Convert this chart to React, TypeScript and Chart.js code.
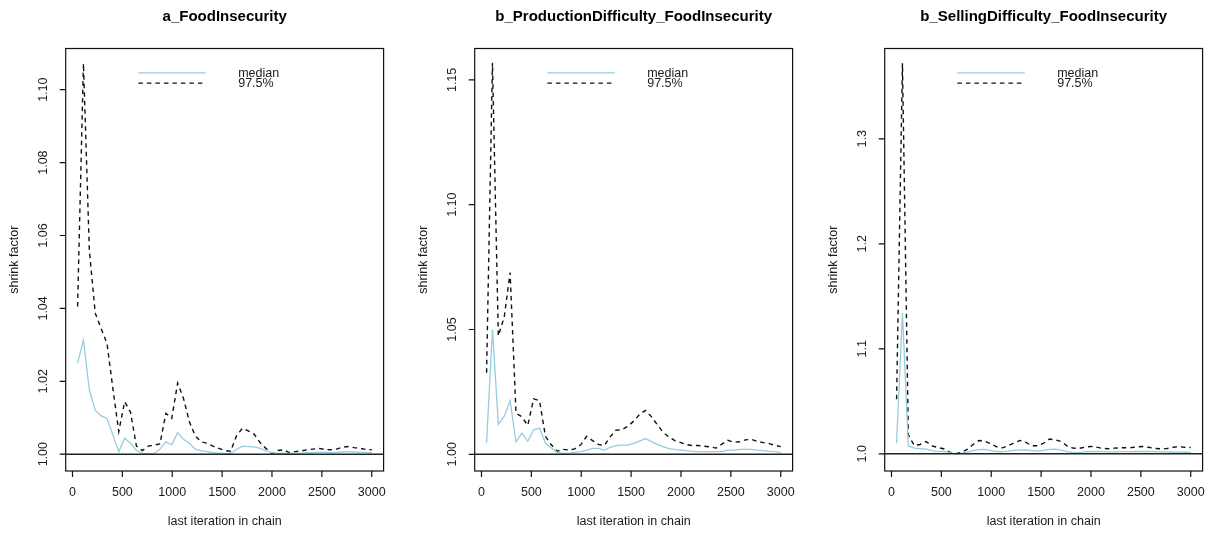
import React, { useEffect, useRef } from "react";
import { Chart, registerables } from "chart.js";

Chart.register(...registerables);

// ---------- data ----------
const iterations = [
  51, 110, 169, 228, 287, 346, 405, 464, 523, 582,
  641, 700, 759, 818, 877, 936, 995, 1054, 1113, 1172,
  1231, 1290, 1349, 1408, 1467, 1526, 1585, 1644, 1703, 1762,
  1821, 1880, 1939, 1998, 2057, 2116, 2175, 2234, 2293, 2352,
  2411, 2470, 2529, 2588, 2647, 2706, 2765, 2824, 2883, 2942, 3000,
];

const xTicks = [0, 500, 1000, 1500, 2000, 2500, 3000];

const titles = [
  "a_FoodInsecurity",
  "b_ProductionDifficulty_FoodInsecurity",
  "b_SellingDifficulty_FoodInsecurity",
];

const yTicksA = [1.0, 1.02, 1.04, 1.06, 1.08, 1.1];
const yTickLabelsA = ["1.00", "1.02", "1.04", "1.06", "1.08", "1.10"];
const yTicksB = [1.0, 1.05, 1.1, 1.15];
const yTickLabelsB = ["1.00", "1.05", "1.10", "1.15"];
const yTicksC = [1.0, 1.1, 1.2, 1.3];
const yTickLabelsC = ["1.0", "1.1", "1.2", "1.3"];

const medianA = [
  1.0249, 1.0313, 1.0176, 1.0121, 1.0105, 1.0098, 1.0053, 1.0007, 1.0044, 1.003,
  1.001, 1.0002, 1.0001, 1.0002, 1.0014, 1.0034, 1.0026, 1.0059, 1.0041, 1.003,
  1.0014, 1.001, 1.0007, 1.0004, 1.0003, 1.0002, 1.0002, 1.0013, 1.0022, 1.0021,
  1.002, 1.0016, 1.001, 1.0004, 1.0002, 1.0003, 1.0002, 1.0003, 1.0003, 1.0004,
  1.0004, 1.0005, 1.0005, 1.0004, 1.0005, 1.0006, 1.0007, 1.0006, 1.0005, 1.0005, 1.0004,
];
const upperA = [
  1.0405, 1.1072, 1.056, 1.0387, 1.0345, 1.0304, 1.018, 1.0062, 1.0144, 1.0115,
  1.0022, 1.001, 1.0022, 1.0025, 1.0028, 1.0112, 1.0098, 1.0195, 1.0153, 1.0089,
  1.005, 1.0034, 1.003, 1.0022, 1.0016, 1.001, 1.0008, 1.005, 1.0071, 1.0064,
  1.0055, 1.0032, 1.0016, 1.0002, 1.001, 1.0012, 1.0004, 1.0007, 1.0009, 1.0012,
  1.0014, 1.0016, 1.0013, 1.0012, 1.0014, 1.0019, 1.0021, 1.0018, 1.0016, 1.0013, 1.0012,
];

const medianB = [
  1.0046, 1.05, 1.012, 1.0152, 1.0215, 1.005, 1.0085, 1.0052, 1.0098, 1.0105,
  1.0045, 1.0025, 1.0008, 1.0004, 1.0005, 1.0008, 1.0011, 1.0017, 1.0024, 1.0024,
  1.0017, 1.0028, 1.0035, 1.0037, 1.0037, 1.0044, 1.0053, 1.0063, 1.0051, 1.004,
  1.0031, 1.0023, 1.0019, 1.0017, 1.0015, 1.0012, 1.0011, 1.0011, 1.0011, 1.0011,
  1.0011, 1.0017, 1.0017, 1.002, 1.002, 1.002, 1.0017, 1.0015, 1.0012, 1.0011, 1.0008,
];
const upperB = [
  1.0327, 1.1569, 1.0474, 1.055, 1.0728, 1.0165, 1.015, 1.0116, 1.0222, 1.0215,
  1.0072, 1.0038, 1.0012, 1.002, 1.0017, 1.0022, 1.0038, 1.0072, 1.0055, 1.004,
  1.0035, 1.007, 1.0097, 1.0098, 1.0112, 1.0133, 1.016, 1.0176, 1.0151, 1.0119,
  1.0088, 1.0069, 1.0055, 1.0047, 1.0039, 1.0035, 1.0035, 1.0032, 1.003, 1.0025,
  1.0041, 1.0056, 1.0048, 1.005, 1.0058, 1.006, 1.0052, 1.0047, 1.0043, 1.0036, 1.0031,
];

const medianC = [
  1.01, 1.134, 1.0075, 1.0055, 1.005, 1.0045, 1.003, 1.002, 1.0025, 1.0012,
  1.0002, 1.0005, 1.0015, 1.003, 1.004, 1.0042, 1.003, 1.0022, 1.002, 1.0025,
  1.0032, 1.0038, 1.0036, 1.003, 1.0025, 1.0032, 1.0042, 1.0045, 1.0035, 1.002,
  1.0012, 1.0012, 1.0018, 1.0022, 1.0022, 1.002, 1.0018, 1.0018, 1.002, 1.002,
  1.0021, 1.0022, 1.0023, 1.0022, 1.002, 1.0019, 1.0018, 1.0017, 1.0016, 1.0015, 1.0014,
];
const upperC = [
  1.052, 1.3719, 1.018, 1.0079, 1.0089, 1.0117, 1.0076, 1.006, 1.0048, 1.0016,
  1.0, 1.0013, 1.0041, 1.0089, 1.0127, 1.0121, 1.0095, 1.0067, 1.0057, 1.0079,
  1.0105, 1.0127, 1.0108, 1.0076, 1.0076, 1.0102, 1.014, 1.0132, 1.0117, 1.0073,
  1.0054, 1.0051, 1.0063, 1.007, 1.0063, 1.0051, 1.0048, 1.0054, 1.0057, 1.0057,
  1.006, 1.0067, 1.007, 1.006, 1.0051, 1.0048, 1.0051, 1.0063, 1.0067, 1.0063, 1.006,
];

// ---------- layout / style ----------
const FONT = '"Liberation Sans", Arial, Helvetica, sans-serif';
const H = 536;
const BOX_LEFT = 65.7;
const BOX_RIGHT = 383.6;
const BOX_TOP = 48.5;
const BOX_BOTTOM = 471;
const MEDIAN_COLOR = "rgb(150,205,222)";

type PanelSpec = {
  title: string;
  left: number;
  width: number;
  yMin: number;
  yMax: number;
  yTicks: number[];
  yTickLabels: string[];
  median: number[];
  upper: number[];
};

const panels: PanelSpec[] = [
  { title: titles[0], left: 0, width: 404, yMin: 0.99539, yMax: 1.1113, yTicks: yTicksA, yTickLabels: yTickLabelsA, median: medianA, upper: upperA },
  { title: titles[1], left: 409.3, width: 404, yMin: 0.99331, yMax: 1.16258, yTicks: yTicksB, yTickLabels: yTickLabelsB, median: medianB, upper: upperB },
  { title: titles[2], left: 819, width: 394, yMin: 0.98362, yMax: 1.386, yTicks: yTicksC, yTickLabels: yTickLabelsC, median: medianC, upper: upperC },
];

function rPlotPlugin(spec: PanelSpec) {
  return {
    id: "rplot",
    afterDatasetsDraw(chart: any) {
      const { ctx, chartArea: a, scales } = chart;
      const py = scales.y.getPixelForValue(1);
      ctx.save();
      ctx.strokeStyle = "#222";
      ctx.lineWidth = 1.5;
      ctx.beginPath();
      ctx.moveTo(a.left, py);
      ctx.lineTo(a.right, py);
      ctx.stroke();
      ctx.restore();
    },
    afterDraw(chart: any) {
      const { ctx, chartArea: a, scales } = chart;
      const xs = scales.x;
      const ys = scales.y;
      ctx.save();
      // box
      ctx.strokeStyle = "#111";
      ctx.lineWidth = 1.2;
      ctx.strokeRect(a.left, a.top, a.right - a.left, a.bottom - a.top);
      // ticks
      ctx.beginPath();
      for (const v of xTicks) {
        const px = xs.getPixelForValue(v);
        ctx.moveTo(px, a.bottom);
        ctx.lineTo(px, a.bottom + 6);
      }
      for (const v of spec.yTicks) {
        const p = ys.getPixelForValue(v);
        ctx.moveTo(a.left, p);
        ctx.lineTo(a.left - 6, p);
      }
      ctx.stroke();
      // tick labels
      ctx.fillStyle = "#1a1a1a";
      ctx.font = `12.5px ${FONT}`;
      ctx.textAlign = "center";
      ctx.textBaseline = "middle";
      for (const v of xTicks) {
        ctx.fillText(String(v), xs.getPixelForValue(v), 492.5);
      }
      spec.yTicks.forEach((v, i) => {
        const p = ys.getPixelForValue(v);
        ctx.save();
        ctx.translate(a.left - 22.4, p);
        ctx.rotate(-Math.PI / 2);
        ctx.fillText(spec.yTickLabels[i], 0, 0);
        ctx.restore();
      });
      // axis titles
      const cx = (a.left + a.right) / 2;
      ctx.fillText("last iteration in chain", cx, 522);
      ctx.save();
      ctx.translate(a.left - 50.7, (a.top + a.bottom) / 2);
      ctx.rotate(-Math.PI / 2);
      ctx.fillText("shrink factor", 0, 0);
      ctx.restore();
      // main title
      ctx.fillStyle = "#000";
      ctx.font = `bold 15px ${FONT}`;
      ctx.fillText(spec.title, cx, 17);
      // legend
      const lx0 = a.left + 72.7;
      const lx1 = a.left + 140;
      ctx.lineWidth = 1.2;
      ctx.strokeStyle = MEDIAN_COLOR;
      ctx.beginPath();
      ctx.moveTo(lx0, 72.8);
      ctx.lineTo(lx1, 72.8);
      ctx.stroke();
      ctx.strokeStyle = "#111";
      ctx.lineWidth = 1.3;
      ctx.setLineDash([4.5, 4]);
      ctx.beginPath();
      ctx.moveTo(lx0, 83.1);
      ctx.lineTo(lx1, 83.1);
      ctx.stroke();
      ctx.setLineDash([]);
      ctx.fillStyle = "#1a1a1a";
      ctx.font = `12.5px ${FONT}`;
      ctx.textAlign = "left";
      ctx.fillText("median", a.left + 172.5, 73.5);
      ctx.fillText("97.5%", a.left + 172.5, 83.5);
      ctx.restore();
    },
  };
}

function Panel({ spec }: { spec: PanelSpec }) {
  const ref = useRef<HTMLCanvasElement | null>(null);
  useEffect(() => {
    if (!ref.current) return;
    const chart = new Chart(ref.current, {
      type: "line",
      data: {
        datasets: [
          {
            label: "median",
            data: iterations.map((it, i) => ({ x: it, y: spec.median[i] })),
            borderColor: MEDIAN_COLOR,
            borderWidth: 1.3,
            pointRadius: 0,
            tension: 0,
            fill: false,
          },
          {
            label: "97.5%",
            data: iterations.map((it, i) => ({ x: it, y: spec.upper[i] })),
            borderColor: "#111",
            borderWidth: 1.4,
            borderDash: [4.5, 4],
            pointRadius: 0,
            tension: 0,
            fill: false,
          },
        ],
      },
      options: {
        responsive: false,
        animation: false,
        devicePixelRatio: 1,
        layout: {
          padding: {
            left: BOX_LEFT,
            right: spec.width - BOX_RIGHT,
            top: BOX_TOP,
            bottom: H - BOX_BOTTOM,
          },
        },
        scales: {
          x: { type: "linear", min: -68, max: 3119, display: false },
          y: { type: "linear", min: spec.yMin, max: spec.yMax, display: false },
        },
        plugins: {
          legend: { display: false },
          tooltip: { enabled: false },
          title: { display: false },
        },
      },
      plugins: [rPlotPlugin(spec)],
    } as any);
    return () => chart.destroy();
  }, [spec]);
  return (
    <canvas
      ref={ref}
      width={spec.width}
      height={H}
      style={{ position: "absolute", left: spec.left, top: 0, width: spec.width, height: H }}
    />
  );
}

export default function App() {
  return (
    <div style={{ position: "absolute", left: 0, top: 0, width: 1213, height: H, background: "#fff" }}>
      {panels.map((p) => (
        <Panel key={p.title} spec={p} />
      ))}
    </div>
  );
}
